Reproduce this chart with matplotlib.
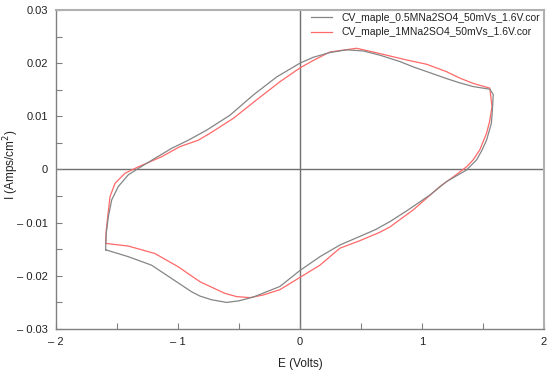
import matplotlib
matplotlib.use("Agg")
import matplotlib.pyplot as plt
from matplotlib.ticker import MultipleLocator

plt.rcParams['font.family'] = ['Liberation Sans', 'DejaVu Sans']

# 0.5 M Na2SO4 (gray) - upper branch then lower branch
e_05 = [-1.593, -1.588, -1.571, -1.543, -1.489, -1.407, -1.325, -1.189, -1.05, -0.916, -0.765,
        -0.574, -0.383, -0.191, 0.0, 0.109, 0.246, 0.383, 0.519, 0.656, 0.82, 0.929, 1.066, 1.202,
        1.31, 1.42, 1.557,
        1.585, 1.578, 1.57, 1.53, 1.49, 1.448, 1.366, 1.2, 1.066, 0.874, 0.738, 0.62, 0.52, 0.328,
        0.164, 0.0, -0.164, -0.383, -0.50, -0.601, -0.724, -0.82, -0.888, -1.052, -1.216, -1.407, -1.593]
i_05 = [-0.0151, -0.0120, -0.0089, -0.0057, -0.0032, -0.0010, 0.0002, 0.0021, 0.0040, 0.0055, 0.0074,
        0.0102, 0.0140, 0.0174, 0.0200, 0.0211, 0.0220, 0.0225, 0.0223, 0.0215, 0.0203, 0.0193, 0.0182, 0.0171,
        0.0163, 0.0156, 0.0151,
        0.0141, 0.0112, 0.0087, 0.0055, 0.0035, 0.0018, -0.0001, -0.0023, -0.0048, -0.0078, -0.0098, -0.0113, -0.0123, -0.0142,
        -0.0164, -0.0190, -0.0220, -0.0240, -0.0247, -0.0250, -0.0245, -0.0238, -0.0230, -0.0205, -0.0180, -0.0164, -0.0151]

# 1 M Na2SO4 (red)
e_1 = [-1.593, -1.588, -1.576, -1.557, -1.516, -1.434, -1.325, -1.134, -0.984, -0.834, -0.738,
       -0.547, -0.355, -0.164, 0.0, 0.109, 0.246, 0.465, 0.656, 0.874, 1.038, 1.202, 1.31, 1.42, 1.557,
       1.575, 1.555, 1.53, 1.475, 1.42, 1.366, 1.257, 1.148, 0.929, 0.738, 0.656, 0.49, 0.328, 0.164, 0.0,
       -0.164, -0.30, -0.41, -0.52, -0.615, -0.82, -0.998, -1.189, -1.407, -1.593]
i_1 = [-0.0139, -0.0115, -0.0089, -0.0051, -0.0026, -0.0007, 0.0005, 0.0024, 0.0043, 0.0055, 0.0068,
       0.0096, 0.0131, 0.0165, 0.0191, 0.0205, 0.0221, 0.0228, 0.0218, 0.0206, 0.0198, 0.0184, 0.0172, 0.0162, 0.0153,
       0.0118, 0.0090, 0.0068, 0.0037, 0.0018, 0.0005, -0.0014, -0.0032, -0.0076, -0.0108, -0.0118, -0.0134, -0.0148, -0.0180, -0.0203,
       -0.0226, -0.0236, -0.0241, -0.0239, -0.0233, -0.0211, -0.0183, -0.0158, -0.0144, -0.0139]

labels = ["CV_maple_0.5MNa2SO4_50mVs_1.6V.cor", "CV_maple_1MNa2SO4_50mVs_1.6V.cor"]
colors = ["#858585", "#ff6868"]

x_ticks = [-2, -1, 0, 1, 2]
x_ticklabels = ["\u2013 2", "\u2013 1", "0", "1", "2"]
y_ticks = [-0.03, -0.02, -0.01, 0, 0.01, 0.02, 0.03]
y_ticklabels = ["\u2013 0.03", "\u2013 0.02", "\u2013 0.01", "0", "0.01", "0.02", "0.03"]

fig = plt.figure(figsize=(5.5, 3.74), dpi=100)
ax = fig.add_axes([0.1018, 0.1203, 0.887, 0.853])

ax.axhline(0, color="#707070", lw=1.0, zorder=1)
ax.axvline(0, color="#707070", lw=1.0, zorder=1)

ax.plot(e_05, i_05, color=colors[0], lw=0.9, label=labels[0], zorder=3, solid_joinstyle="round")
ax.plot(e_1, i_1, color=colors[1], lw=0.9, label=labels[1], zorder=2, solid_joinstyle="round")

ax.set_xlim(-2, 2)
ax.set_ylim(-0.03, 0.03)
ax.set_xticks(x_ticks)
ax.set_xticklabels(x_ticklabels)
ax.set_yticks(y_ticks)
ax.set_yticklabels(y_ticklabels)
ax.xaxis.set_minor_locator(MultipleLocator(0.5))
ax.yaxis.set_minor_locator(MultipleLocator(0.005))
ax.tick_params(which="both", direction="in", length=4, width=0.8, color="#808080",
               top=False, right=False, labelsize=8, labelcolor="#222222", pad=6)

for s in ["left", "bottom"]:
    ax.spines[s].set_color("#808080")
    ax.spines[s].set_linewidth(1.0)
for s in ["top", "right"]:
    ax.spines[s].set_color("#b0b0b0")
    ax.spines[s].set_linewidth(1.5)

ax.set_xlabel("E (Volts)", fontsize=8.5, color="#222222", labelpad=8)
ax.set_ylabel("I (Amps/cm$^2$)", fontsize=8.5, color="#222222")
ax.yaxis.set_label_coords(-0.072, 0.514)

leg = ax.legend(loc="upper right", frameon=False, fontsize=7.5, handlelength=2.0,
                handletextpad=0.9, borderaxespad=0.0, labelspacing=0.45,
                bbox_to_anchor=(1.0, 1.005))
for t in leg.get_texts():
    t.set_color("#222222")

fig.savefig("out.png", dpi=100)
